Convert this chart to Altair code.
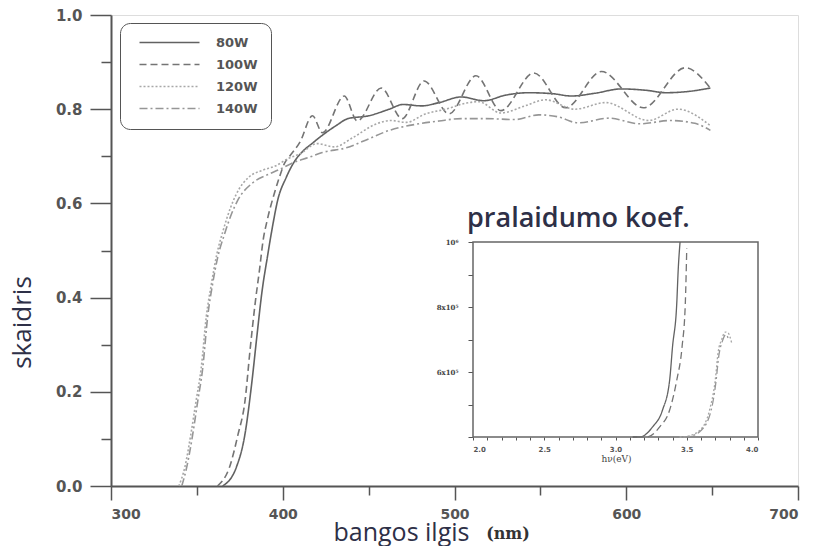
import altair as alt
import pandas as pd

SERIES = ["80W", "100W", "120W", "140W"]

# ---- main chart: transmittance vs wavelength (nm) ----
w80 = [365, 373, 378, 382, 385, 388, 391, 394, 397, 402, 407, 411, 418, 425, 431, 438,
       450, 462, 470, 481, 491, 504, 517, 530, 543, 557, 568, 582, 597, 612, 623, 637, 649]
t80 = [0.0, 0.04, 0.11, 0.22, 0.32, 0.415, 0.485, 0.55, 0.606, 0.655, 0.69, 0.708, 0.73,
       0.75, 0.765, 0.78, 0.786, 0.80, 0.81, 0.807, 0.814, 0.826, 0.818, 0.83, 0.835, 0.833,
       0.828, 0.834, 0.843, 0.84, 0.835, 0.838, 0.845]

w100 = [362, 369, 374, 378, 381, 384, 386.5, 388.5, 391, 395, 398, 401, 404, 410, 417.3,
        423.1, 435.8, 443.4, 457.3, 469.5, 482.3, 496.8, 512.5, 527, 546.2, 564.7, 585.6,
        610, 634.4, 648.9]
t100 = [0.0, 0.04, 0.11, 0.18, 0.29, 0.39, 0.46, 0.52, 0.565, 0.62, 0.655, 0.685, 0.70,
        0.73, 0.786, 0.75, 0.828, 0.775, 0.845, 0.78, 0.86, 0.79, 0.871, 0.797, 0.877,
        0.803, 0.88, 0.803, 0.888, 0.845]

w120 = [339.5, 343, 346.5, 349.5, 352.5, 355.5, 358.5, 361.5, 365.5, 369.5, 373, 380, 388,
        396, 403, 410, 420, 430, 441, 454, 463, 472, 483, 495, 507, 514, 527, 541, 553,
        570, 588, 613, 630, 649]
t120 = [0.0, 0.04, 0.11, 0.18, 0.25, 0.36, 0.43, 0.49, 0.545, 0.59, 0.62, 0.655, 0.67,
        0.68, 0.695, 0.705, 0.727, 0.72, 0.74, 0.768, 0.776, 0.772, 0.79, 0.80, 0.813,
        0.816, 0.792, 0.807, 0.82, 0.80, 0.814, 0.776, 0.80, 0.765]

w140 = [341.2, 344.1, 347.6, 350.5, 353.4, 356.3, 359.2, 362.1, 366.2, 370.2, 373.7, 381.9,
        390.6, 398.1, 405.7, 415.5, 423, 437, 450, 462, 477.6, 491, 504, 518, 535, 549,
        560, 572, 590, 608, 626, 640, 649]
t140 = [0.0, 0.04, 0.11, 0.18, 0.25, 0.36, 0.43, 0.485, 0.536, 0.578, 0.606, 0.642, 0.66,
        0.672, 0.686, 0.698, 0.708, 0.718, 0.737, 0.755, 0.768, 0.775, 0.78, 0.78, 0.778,
        0.788, 0.784, 0.771, 0.781, 0.769, 0.776, 0.77, 0.755]

# ---- inset: absorption coefficient vs photon energy (eV) ----
e80 = [3.12, 3.17, 3.26, 3.33, 3.38, 3.40, 3.43, 3.44, 3.453]
a80 = [4.0e5, 4.0e5, 4.31e5, 4.83e5, 5.75e5, 6.77e5, 8.12e5, 9.14e5, 1.0e6]
e100 = [3.15, 3.22, 3.31, 3.38, 3.43, 3.467, 3.49, 3.50]
a100 = [4.0e5, 4.0e5, 4.31e5, 4.83e5, 5.75e5, 6.77e5, 8.12e5, 9.8e5]
e120 = [3.45, 3.50, 3.59, 3.66, 3.70, 3.72, 3.745, 3.77, 3.79, 3.815]
a120 = [4.0e5, 4.02e5, 4.2e5, 4.83e5, 5.75e5, 6.6e5, 7.0e5, 7.23e5, 7.2e5, 6.9e5]
e140 = [3.47, 3.52, 3.60, 3.67, 3.705, 3.725, 3.75, 3.775, 3.79]
a140 = [4.0e5, 4.02e5, 4.2e5, 4.8e5, 5.7e5, 6.5e5, 6.95e5, 7.15e5, 7.05e5]

X_DOMAIN = [300, 700]
Y_DOMAIN = [0.0, 1.0]
X_MAJOR = [300, 400, 500, 600, 700]
X_MINOR = [350, 450, 550, 650]
Y_MAJOR = [0.0, 0.2, 0.4, 0.6, 0.8, 1.0]
Y_MINOR = [0.1, 0.3, 0.5, 0.7, 0.9]
IX_DOMAIN = [2.0, 4.0]
IY_DOMAIN = [4.0e5, 1.0e6]
IX_TICKS = [round(2.0 + 0.1 * i, 1) for i in range(21)]
IY_TICKS = [4.0e5, 5.0e5, 6.0e5, 7.0e5, 8.0e5, 9.0e5, 1.0e6]

main_rows = []
for s, ws, ts in [("80W", w80, t80), ("100W", w100, t100), ("120W", w120, t120), ("140W", w140, t140)]:
    main_rows += [{"series": s, "wl": w, "T": t} for w, t in zip(ws, ts)]
main_df = pd.DataFrame(main_rows)

inset_rows = []
for s, es, As in [("80W", e80, a80), ("100W", e100, a100), ("120W", e120, a120), ("140W", e140, a140)]:
    inset_rows += [{"series": s, "ev": e, "alpha": a} for e, a in zip(es, As)]
inset_df = pd.DataFrame(inset_rows)

frame_df = pd.DataFrame({"ev": [IX_DOMAIN[0]], "ev2": [IX_DOMAIN[1]],
                         "alpha": [IY_DOMAIN[0]], "alpha2": [IY_DOMAIN[1]]})

W, H = 687, 471
IX0, IX1 = 362, 647
IY0, IY1 = 422, 227

TXT = "#2e3047"
AX = "#555555"

color_scale = alt.Scale(domain=SERIES, range=["#626262", "#747474", "#a8a8a8", "#969696"])
dash_scale = alt.Scale(domain=SERIES, range=[[1, 0], [7, 4], [2, 2], [8, 3, 2, 3]])

legend = alt.Legend(title=None, orient="none", legendX=9, legendY=8,
                    symbolType="M0,0H30", symbolSize=16, symbolStrokeWidth=1.6,
                    labelFont="DejaVu Sans", labelFontSize=13, labelFontWeight="bold",
                    labelColor=AX, labelOffset=70, rowPadding=8, padding=13,
                    fillColor="white", strokeColor=AX, cornerRadius=10)

main_x = alt.X("wl:Q", scale=alt.Scale(domain=X_DOMAIN, nice=False),
               axis=alt.Axis(orient="bottom", values=X_MAJOR, format="d", grid=False,
                             labelFont="DejaVu Sans", labelFontWeight="bold", labelFontSize=14,
                             labelColor=AX, tickSize=14, tickWidth=1.5, tickColor=AX,
                             domainColor=AX, domainWidth=2, labelPadding=7,
                             title="bangos ilgis", titleFont="Open Sans", titleFontSize=25,
                             titleFontWeight="normal", titleColor=TXT, titleX=290, titleY=54,
                             titleBaseline="alphabetic", titleAlign="center"))
main_y = alt.Y("T:Q", scale=alt.Scale(domain=Y_DOMAIN, nice=False),
               axis=alt.Axis(orient="left", values=Y_MAJOR, format=".1f", grid=False,
                             labelFont="DejaVu Sans", labelFontWeight="bold", labelFontSize=15,
                             labelColor=AX, tickSize=21, tickWidth=1.5, tickColor=AX,
                             domainColor=AX, domainWidth=2, labelPadding=8,
                             title="skaidris", titleFont="Open Sans", titleFontSize=26,
                             titleFontWeight="normal", titleColor=TXT, titleX=-81, titleY=307,
                             titleAngle=270, titleBaseline="alphabetic", titleAlign="center"))

main_lines = alt.Chart(main_df).mark_line(interpolate="monotone", strokeWidth=1.6).encode(
    x=main_x, y=main_y,
    color=alt.Color("series:N", scale=color_scale, legend=legend),
    strokeDash=alt.StrokeDash("series:N", scale=dash_scale, legend=legend),
)

minor = alt.Chart(pd.DataFrame({"mx": [500], "my": [0.5]})).mark_point(opacity=0, size=1).encode(
    x=alt.X("mx:Q", scale=alt.Scale(domain=X_DOMAIN, nice=False),
            axis=alt.Axis(orient="bottom", values=X_MINOR, labels=False, domain=False,
                          grid=False, tickSize=9, tickWidth=1.5, tickColor=AX, title=None)),
    y=alt.Y("my:Q", scale=alt.Scale(domain=Y_DOMAIN, nice=False),
            axis=alt.Axis(orient="left", values=Y_MINOR, labels=False, domain=False,
                          grid=False, tickSize=10, tickWidth=1.5, tickColor=AX, title=None)),
)

inset_x = alt.X("ev:Q", scale=alt.Scale(domain=IX_DOMAIN, range=[IX0, IX1], nice=False, zero=False),
                axis=alt.Axis(orient="bottom", offset=IY0 - H, values=IX_TICKS, domain=False,
                              grid=False, tickSize=3, tickWidth=1, tickColor=AX,
                              labelExpr="(abs(datum.value*2 - round(datum.value*2)) < 0.01) ? format(datum.value, '.1f') : ''",
                              labelFont="DejaVu Sans", labelFontWeight="bold", labelFontSize=7,
                              labelColor=AX, labelPadding=5,
                              title="hν(eV)", titleFont="DejaVu Serif", titleFontSize=9,
                              titleFontWeight="normal", titleColor="#444444",
                              titleX=IX0 + 143, titleY=24, titleBaseline="alphabetic",
                              titleAlign="center"))
inset_y = alt.Y("alpha:Q", scale=alt.Scale(domain=IY_DOMAIN, range=[IY0, IY1], nice=False, zero=False),
                axis=alt.Axis(orient="left", offset=-IX0, values=IY_TICKS, domain=False,
                              grid=False, tickSize=5, tickWidth=1, tickColor=AX,
                              labelExpr="datum.value == 1000000 ? '10⁶' : (datum.value == 800000 ? '8x10⁵' : (datum.value == 600000 ? '6x10⁵' : ''))",
                              labelFont="DejaVu Serif", labelFontWeight="bold", labelFontSize=7,
                              labelColor="#444444", labelPadding=10, title=None))

inset_frame = alt.Chart(frame_df).mark_rect(fill="white", stroke="#666666", strokeWidth=1.5).encode(
    x=inset_x, x2="ev2:Q", y=inset_y, y2="alpha2:Q")

inset_lines = alt.Chart(inset_df).mark_line(interpolate="monotone", strokeWidth=1.3).encode(
    x=inset_x, y=inset_y,
    color=alt.Color("series:N", scale=color_scale, legend=legend),
    strokeDash=alt.StrokeDash("series:N", scale=dash_scale, legend=legend),
)

inset = alt.layer(inset_frame, inset_lines)

inset_title = alt.Chart(pd.DataFrame({"t": ["pralaidumo koef."]})).mark_text(
    font="Open Sans", fontWeight=600, fontSize=27, color=TXT, align="left", baseline="alphabetic"
).encode(x=alt.value(356), y=alt.value(212), text="t:N")

nm_text = alt.Chart(pd.DataFrame({"t": ["(nm)"]})).mark_text(
    font="DejaVu Serif", fontWeight="bold", fontSize=16, color="#333333", align="center",
    baseline="alphabetic"
).encode(x=alt.value(397), y=alt.value(524), text="t:N")

chart = alt.layer(inset, main_lines, minor, inset_title, nm_text).resolve_scale(
    x="independent", y="independent"
).properties(
    width=W, height=H,
    autosize=alt.AutoSizeParams(type="none"),
    padding={"left": 111, "top": 15, "right": 18, "bottom": 60},
).configure_view(
    stroke="#666666", strokeWidth=1.5
).configure_legend(
    strokeWidth=1.5
).configure(background="white")

chart.save("out.html", embed_options={"renderer": "svg", "actions": False})
